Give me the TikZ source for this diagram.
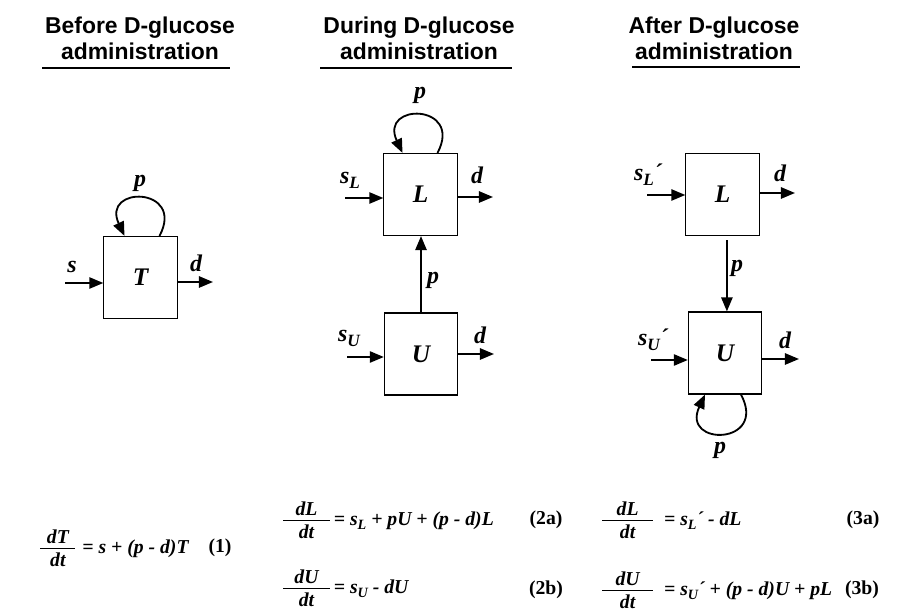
\documentclass[tikz,border=0pt]{standalone}
\usepackage{fontspec}
\usepackage{graphicx}
\setmainfont{Liberation Serif}
\newfontfamily\headfont{Liberation Sans}
\usetikzlibrary{arrows.meta, calc}
\newcommand{\low}[1]{\raisebox{-0.45ex}{\scalebox{0.72}{#1}}}
\newcommand{\efrac}[3]{$\vcenter{\hbox to #1{\hss#2\hss}\kern3pt\hrule height 0.7pt width #1\kern3pt\hbox to #1{\hss#3\hss}}$}

\begin{document}
\begin{tikzpicture}[x=0.025cm, y=0.025cm,
                >={Triangle[length=10pt, width=8pt]},
                comp/.style ={draw, line width=0.8pt, minimum width=1.83cm,
                        minimum height=2.05cm, inner sep=0pt,
                        font=\fontsize{18}{20}\selectfont\bfseries\itshape},
                flow/.style ={->, line width=1.4pt},
                cyc/.style  ={->, line width=1.3pt, out=62, in=115, looseness=4.1},
                cycdown/.style={cyc, out=-62, in=-115},
                var/.style  ={inner sep=0pt, font=\fontsize{17}{19}\selectfont\bfseries\itshape},
                head/.style ={align=center, font=\headfont\bfseries\fontsize{16.3}{18.5}\selectfont},
                eqn/.style  ={anchor=west, inner sep=0pt, font=\fontsize{14}{16}\selectfont\bfseries\itshape},
                tag/.style  ={inner sep=0pt, font=\fontsize{14}{16}\selectfont\bfseries},
                hrule/.style={line width=0.8pt}
            ]
            \useasboundingbox (0,0) rectangle (899,611);

            %% ---- headings -------------------------------------------------
            \node[head] (hb) at (140,573) {Before D-glucose\\administration};
            \node[head] (hd) at (419,573) {During D-glucose\\administration};
            \node[head] (ha) at (714,573) {After D-glucose\\administration};
            \draw[hrule] (42,543) -- (230,543);
            \draw[hrule] (320,543) -- (512,543);
            \draw[hrule] (632,544) -- (800,544);

            %% ---- BEFORE: one compartment T ----------------------------------
            \node[comp] (T) at (140.5,333.5) {T};
            \coordinate (sT) at (65,328);
            \coordinate (dT) at (213,329);
            \draw[flow] (sT) -- (sT -| T.west);
            \draw[flow] (dT -| T.east) -- (dT);
            \draw[cyc] ($(T.north)+(19,0)$) to ($(T.north)+(-16,0)$);
            \node[var] (lsT) at (72,344) {s};
            \node[var] (ldT) at (196,348) {d};
            \node[var] (lpT) at (140,428) {p};

            %% ---- DURING: L fed by U ---------------------------------------
            \node[comp] (L1) at (420.5,416.5) {L};
            \node[comp] (U1) at (421,257) {U};
            \coordinate (sL1) at (345,413);
            \coordinate (dL1) at (493,414);
            \coordinate (sU1) at (347,254);
            \coordinate (dU1) at (494,257);
            \draw[flow] (sL1) -- (sL1 -| L1.west);
            \draw[flow] (dL1 -| L1.east) -- (dL1);
            \draw[flow] (sU1) -- (sU1 -| U1.west);
            \draw[flow] (dU1 -| U1.east) -- (dU1);
            \draw[flow] (U1.north) -- (U1.north |- L1.south);
            \draw[cyc] ($(L1.north)+(17,0)$) to ($(L1.north)+(-18,0)$);
            \node[var] (lsL1) at (350,431) {s\low{L}};
            \node[var] (ldL1) at (477,436) {d};
            \node[var] (lpL1) at (420,516) {p};
            \node[var] (lpU1) at (433,331) {p};
            \node[var] (lsU1) at (349,273) {s\low{U}};
            \node[var] (ldU1) at (480,276) {d};

            %% ---- AFTER: L feeds U -----------------------------------------
            \node[comp] (L2) at (722.5,416.5) {L};
            \node[comp] (U2) at (725,258) {U};
            \coordinate (sL2) at (647,416);
            \coordinate (dL2) at (795,418);
            \coordinate (sU2) at (651,251);
            \coordinate (dU2) at (799,252);
            \draw[flow] (sL2) -- (sL2 -| L2.west);
            \draw[flow] (dL2 -| L2.east) -- (dL2);
            \draw[flow] (sU2) -- (sU2 -| U2.west);
            \draw[flow] (dU2 -| U2.east) -- (dU2);
            \draw[flow, shorten <=3pt] ([xshift=0.11cm]L2.south) -- ([xshift=0.11cm]L2.south |- U2.north);
            \draw[cycdown] ($(U2.south)+(16,0)$) to ($(U2.south)+(-20,0)$);
            \node[var] (lsL2) at (648,436) {s\low{L}´};
            \node[var] (ldL2) at (780,438) {d};
            \node[var] (lpL2) at (737,343) {p};
            \node[var] (lsU2) at (653,271) {s\low{U}´};
            \node[var] (ldU2) at (785,271) {d};
            \node[var] (lpU2) at (720,161) {p};

            %% ---- equations ------------------------------------------------
            \node[eqn] (eq1) at (40,63) {\efrac{25pt}{dT}{dt}\hspace{5pt}= s + (p - d)T};
            \node[tag] (n1) at (220,63) {(1)};
            \node[eqn] (eq2a) at (283,91) {\efrac{33pt}{dL}{dt}\hspace{3pt}= s\low{L} + pU + (p - d)L};
            \node[tag] (n2a) at (546,91) {(2a)};
            \node[eqn] (eq2b) at (283,23) {\efrac{33pt}{dU}{dt}\hspace{3pt}= s\low{U} - dU};
            \node[tag] (n2b) at (546,21) {(2b)};
            \node[eqn] (eq3a) at (602,91) {\efrac{36pt}{dL}{dt}\hspace{8pt}= s\low{L}´ - dL};
            \node[tag] (n3a) at (863,91) {(3a)};
            \node[eqn] (eq3b) at (602,21) {\efrac{36pt}{dU}{dt}\hspace{8pt}= s\low{U}´ + (p - d)U + pL};
            \node[tag] (n3b) at (862,21) {(3b)};

        \end{tikzpicture}
\end{document}
